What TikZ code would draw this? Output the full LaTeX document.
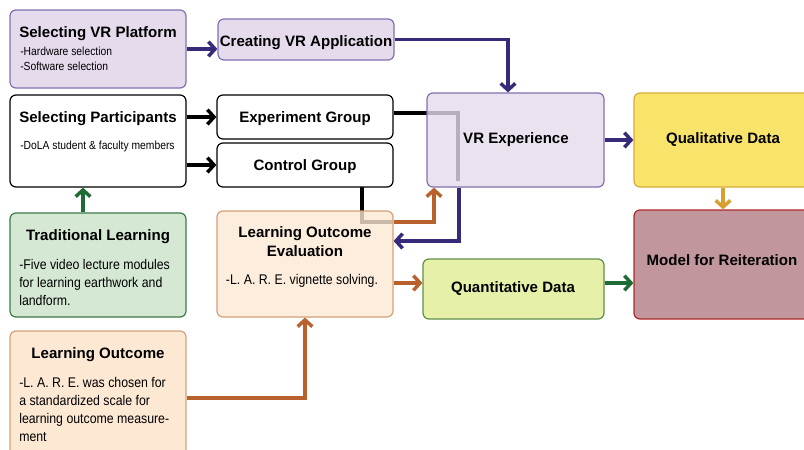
\documentclass[tikz,border=0pt]{standalone}
\usepackage{fontspec}
\setmainfont{Liberation Sans}
\newfontfamily\narrowfont{Liberation Sans}[FakeStretch=0.88]
\usetikzlibrary{arrows.meta,fit}

\definecolor{vrfill}{HTML}{E6DBEC}
\definecolor{vrline}{HTML}{8070B0}
\definecolor{vrarrow}{HTML}{372A78}
\definecolor{qualfill}{HTML}{F9E46B}
\definecolor{qualline}{HTML}{D8AA38}
\definecolor{goldarrow}{HTML}{D8A030}
\definecolor{modelfill}{HTML}{C1979D}
\definecolor{modelline}{HTML}{B02828}
\definecolor{quantfill}{HTML}{E6F0A8}
\definecolor{quantline}{HTML}{5F8F4A}
\definecolor{greenarrow}{HTML}{1F6B35}
\definecolor{tradfill}{HTML}{D5E8D4}
\definecolor{tradline}{HTML}{3A7A48}
\definecolor{evalfill}{HTML}{FDE8D4}
\definecolor{evalline}{HTML}{D4A07A}
\definecolor{orangearrow}{HTML}{B8612C}

\begin{document}
\begin{tikzpicture}[x=0.75pt, y=-0.75pt,
  box/.style={draw, rounded corners=4.5pt, line width=0.9pt, inner sep=0pt},
  vrbox/.style={box, draw=vrline, fill=vrfill},
  plainbox/.style={box, draw=black, fill=white},
  seebox/.style={fill opacity=0.8, text opacity=1},
  title/.style={inner sep=0pt, font=\bfseries\fontsize{11.3}{13.9}\selectfont},
  smalltext/.style={inner sep=0pt, align=left, font=\narrowfont\fontsize{8.8}{11.25}\selectfont},
  bodytext/.style={inner sep=0pt, font=\narrowfont\fontsize{10.5}{13.6}\selectfont},
  link/.style={line width=2.6pt},
  arrow/.style={link, -{Straight Barb[length=5pt, width=11pt]}}]
  \useasboundingbox (0,0) rectangle (804,450);
  \clip (0,0) rectangle (804,450);

  % bend points
  \coordinate (appbend) at (508,40);
  \coordinate (expend) at (458,181);
  \coordinate (ctrlbend) at (362,222);
  \coordinate (loebend) at (434,222);
  \coordinate (vrbend) at (459,241);
  \coordinate (evalrow) at (400,283);
  \coordinate (tradbend) at (83,200);

  % lines running behind the see-through boxes
  \draw[link] (400,113) -| (expend);
  \draw[link] (ctrlbend |- 0,187) |- (393,222);

  % boxes
  \node[vrbox, fit={(10,10) (186,88)}] (vrplat) {};
  \node[vrbox, fit={(218,19) (394,60)}] (vrapp) {};
  \node[plainbox, fit={(10,95) (186,187)}] (selpart) {};
  \node[plainbox, fit={(217,95) (393,139)}] (expgrp) {};
  \node[plainbox, fit={(217,143) (393,187)}] (ctrlgrp) {};
  \node[vrbox, seebox, fit={(427,93) (604,187)}] (vrexp) {};
  \node[box, draw=qualline, fill=qualfill, fit={(634,93) (812,187)}] (qual) {};
  \node[box, draw=modelline, fill=modelfill, fit={(634,210) (812,319)}] (model) {};
  \node[box, draw=tradline, fill=tradfill, fit={(10,213) (186,317)}] (trad) {};
  \node[box, draw=evalline, fill=evalfill, seebox, fit={(217,211) (393,317)}] (loe) {};
  \node[box, draw=quantline, fill=quantfill, fit={(423,259) (604,319)}] (quant) {};
  \node[box, draw=evalline, fill=evalfill, fit={(10,331) (186,465)}] (lout) {};

  % box texts
  \node[title, anchor=base west] (vrplatT) at (19,37) {Selecting VR Platform};
  \node[smalltext, anchor=north west] (vrplatB) at (20,46.5) {-Hardware selection\\-Software selection};
  \node[title, anchor=base] (vrappT) at (306,46) {Creating VR Application};
  \node[title, anchor=base west] (selpartT) at (19,122) {Selecting Participants};
  \node[smalltext, anchor=base west] (selpartB) at (20,149) {-DoLA student \& faculty members};
  \node[title, anchor=base] (expgrpT) at (305,122) {Experiment Group};
  \node[title, anchor=base] (ctrlgrpT) at (305,170) {Control Group};
  \node[title, anchor=base] (vrexpT) at (516,143) {VR Experience};
  \node[title, anchor=base] (qualT) at (723,143) {Qualitative Data};
  \node[title, anchor=base] (modelT) at (722,265) {Model for Reiteration};
  \node[title, anchor=base] (quantT) at (513,292) {Quantitative Data};
  \node[title, anchor=base] (tradT) at (98,240) {Traditional Learning};
  \node[bodytext, align=left, anchor=north west] (tradB) at (19,259) {-Five video lecture modules\\for learning earthwork and\\landform.};
  \node[title, align=center, anchor=north] (loeT) at (305,226.5) {Learning Outcome\\Evaluation};
  \node[bodytext, anchor=base] (loeB) at (302,284) {-L. A. R. E. vignette solving.};
  \node[title, anchor=base] (loutT) at (98,358) {Learning Outcome};
  \node[bodytext, align=left, anchor=north west] (loutB) at (19,377) {-L. A. R. E. was chosen for\\a standardized scale for\\learning outcome measure-\\ment};

  % connectors
  \draw[arrow, vrarrow] (vrplat.east) -- (vrplat.east -| vrapp.west);
  \draw[arrow, vrarrow] (vrapp.east) -| (vrexp.north -| appbend);
  \draw[arrow] (selpart.east |- expgrp.west) -- (expgrp.west);
  \draw[arrow] (selpart.east |- ctrlgrp.west) -- (ctrlgrp.west);
  \draw[link] (expgrp.east |- 0,113) -- (vrexp.west |- 0,113);
  \draw[link] (ctrlgrp.south -| ctrlbend) -- (loe.north -| ctrlbend);
  \draw[arrow, orangearrow] (loe.east |- loebend) -| (vrexp.south -| loebend);
  \draw[arrow, vrarrow] (vrexp.south -| vrbend) |- (loe.east |- vrbend);
  \draw[arrow, orangearrow] (loe.east |- evalrow) -- (quant.west |- evalrow);
  \draw[arrow, orangearrow] (lout.east) -| (loe.south);
  \draw[arrow, greenarrow] (trad.north -| tradbend) -- (selpart.south -| tradbend);
  \draw[arrow, vrarrow] (vrexp.east) -- (qual.west);
  \draw[arrow, goldarrow] (qual.south) -- (model.north);
  \draw[arrow, greenarrow] (quant.east |- evalrow) -- (model.west |- evalrow);
\end{tikzpicture}
\end{document}
